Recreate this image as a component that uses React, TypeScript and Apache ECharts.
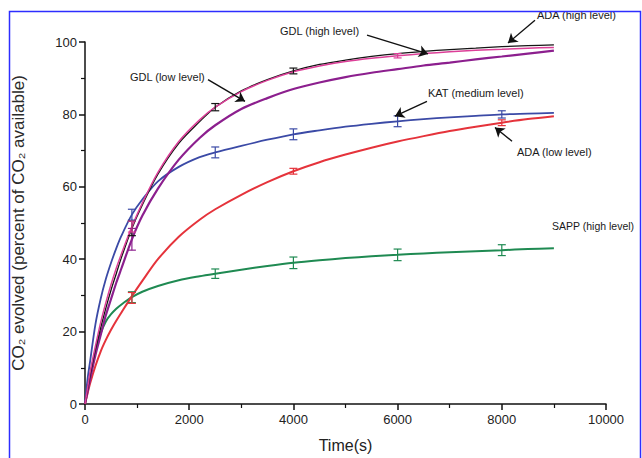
import React, { useEffect, useRef } from "react";
import * as echarts from "echarts";

// time points (s)
const timePoints = [0, 50, 100, 200, 300, 400, 500, 600, 700, 900, 1100, 1400, 1800, 2200, 2500, 3000, 3500, 4000, 4500, 5000, 5500, 6000, 6500, 7000, 7500, 8000, 8500, 9000];

const adaHigh = [0, 4, 8, 15, 21, 26.5, 31.5, 36, 40.5, 48.5, 55, 63.5, 72, 78, 82, 86.5, 89.6, 92, 93.8, 95, 96, 96.8, 97.4, 97.9, 98.3, 98.7, 99, 99.2];
const gdlHigh = [0, 4.5, 9, 16, 22.5, 28, 33, 37.5, 41.5, 49, 55.5, 64, 72.5, 78.5, 82, 86.3, 89.4, 91.8, 93.4, 94.6, 95.5, 96.2, 96.8, 97.3, 97.7, 98, 98.3, 98.5];
const gdlLow = [0, 3.5, 7, 13.5, 19, 24.5, 29, 33.5, 37.5, 45.5, 52, 59.5, 67.5, 73.5, 77, 81.5, 84.5, 87, 88.8, 90.3, 91.5, 92.5, 93.5, 94.3, 95.2, 96, 96.8, 97.6];
const katMedium = [0, 7, 12, 22, 29, 34.5, 39, 43, 46.5, 52.3, 56.5, 61.5, 65.5, 68.2, 69.5, 71.3, 73, 74.5, 75.6, 76.6, 77.4, 78.1, 78.7, 79.2, 79.6, 80, 80.2, 80.4];
const adaLow = [0, 3, 5.8, 10.5, 14.5, 17.7, 20.5, 23, 25.3, 29.8, 34, 40, 46.2, 50.9, 53.8, 57.8, 61.3, 64.3, 66.8, 68.9, 70.8, 72.5, 74, 75.4, 76.6, 77.7, 78.7, 79.5];
const sappHigh = [0, 4, 8, 14.5, 19.5, 22.8, 24.8, 26.3, 27.5, 29.5, 31, 32.6, 34.2, 35.3, 36, 37.1, 38.1, 39, 39.7, 40.3, 40.8, 41.2, 41.6, 41.9, 42.2, 42.5, 42.8, 43];

// error bars: [time, value, halfWidth]
const adaHighErr = [[900, 48.5, 2], [2500, 82, 1], [4000, 92, 0.8]];
const gdlHighErr = [[900, 49, 1.5], [6000, 96.2, 0.6]];
const gdlLowErr = [[900, 45.5, 3]];
const katErr = [[900, 52.3, 1.5], [2500, 69.5, 1.5], [4000, 74.5, 1.5], [6000, 78.1, 1.5], [8000, 80, 1]];
const adaLowErr = [[900, 29.3, 1.5], [4000, 64.3, 0.8], [8000, 77.7, 0.8]];
const sappErr = [[900, 29.5, 1.5], [2500, 36, 1.3], [4000, 39, 1.6], [6000, 41.2, 1.6], [8000, 42.5, 1.5]];

// annotation arrows in data coordinates: [fromT, fromV, toT, toV]
const arrows = [
  [8637, 106, 8119, 99.7],
  [5413, 101.9, 6583, 96.7],
  [2361, 89.6, 3071, 83.6],
  [6564, 83.6, 5950, 79.5],
  [8196, 72.6, 7869, 76.4],
];

const FONT = "'Liberation Sans', Arial, 'DejaVu Sans', sans-serif";

const colors = {
  adaHigh: "#151515",
  gdlHigh: "#dc3f98",
  gdlLow: "#8c1f8e",
  kat: "#3b4aa6",
  adaLow: "#e5333b",
  sapp: "#1f8a52",
};

function pairs(vals: number[]) {
  return timePoints.map((t, i) => [t, vals[i]]);
}

function errSeries(data: number[][], color: string) {
  return {
    type: "custom",
    data,
    z: 5,
    renderItem: (params: any, api: any) => {
      const t = api.value(0);
      const v = api.value(1);
      const e = api.value(2);
      const top = api.coord([t, v + e]);
      const bot = api.coord([t, v - e]);
      const hw = 4;
      const style = { stroke: color, lineWidth: 1.2 };
      return {
        type: "group",
        children: [
          { type: "line", shape: { x1: top[0], y1: top[1], x2: bot[0], y2: bot[1] }, style },
          { type: "line", shape: { x1: top[0] - hw, y1: top[1], x2: top[0] + hw, y2: top[1] }, style },
          { type: "line", shape: { x1: bot[0] - hw, y1: bot[1], x2: bot[0] + hw, y2: bot[1] }, style },
        ],
      };
    },
  };
}

function lineSeries(name: string, vals: number[], color: string, width: number) {
  return {
    name,
    type: "line",
    data: pairs(vals),
    showSymbol: false,
    smooth: 0.3,
    lineStyle: { color, width },
    itemStyle: { color },
  };
}

export default function App() {
  const ref = useRef<HTMLDivElement>(null);
  useEffect(() => {
    document.body.style.margin = "0";
    const chart = echarts.init(ref.current!, null, { renderer: "svg" });
    const textStyle = { fill: "#1a1a1a", font: `11px ${FONT}` };
    chart.setOption({
      animation: false,
      backgroundColor: "#ffffff",
      grid: { left: 85, right: 36, top: 42, bottom: 44, containLabel: false },
      xAxis: {
        type: "value",
        min: 0,
        max: 10000,
        interval: 2000,
        name: "Time(s)",
        nameLocation: "middle",
        nameGap: 33,
        nameTextStyle: { fontFamily: FONT, fontSize: 16, color: "#222" },
        axisLine: { show: true, lineStyle: { color: "#111", width: 1.5 } },
        axisTick: { show: true, length: 6, lineStyle: { color: "#111", width: 1.5 } },
        minorTick: { show: true, splitNumber: 2, length: 4, lineStyle: { color: "#111", width: 1.2 } },
        axisLabel: { fontFamily: FONT, fontSize: 13, color: "#222", margin: 9, formatter: (v: number) => String(v) },
        splitLine: { show: false },
      },
      yAxis: {
        type: "value",
        min: 0,
        max: 100,
        interval: 20,
        name: "CO\u2082 evolved (percent of CO\u2082 available)",
        nameLocation: "middle",
        nameGap: 58,
        nameTextStyle: { fontFamily: FONT, fontSize: 17, color: "#2a2a2a" },
        axisLine: { show: true, lineStyle: { color: "#111", width: 1.5 } },
        axisTick: { show: true, length: 6, lineStyle: { color: "#111", width: 1.5 } },
        minorTick: { show: true, splitNumber: 2, length: 4, lineStyle: { color: "#111", width: 1.2 } },
        axisLabel: { fontFamily: FONT, fontSize: 13, color: "#222", margin: 8, formatter: (v: number) => String(v) },
        splitLine: { show: false },
      },
      series: [
        lineSeries("SAPP (high level)", sappHigh, colors.sapp, 2),
        lineSeries("ADA (low level)", adaLow, colors.adaLow, 2),
        lineSeries("KAT (medium level)", katMedium, colors.kat, 1.8),
        lineSeries("GDL (low level)", gdlLow, colors.gdlLow, 2.2),
        lineSeries("ADA (high level)", adaHigh, colors.adaHigh, 1.3),
        lineSeries("GDL (high level)", gdlHigh, colors.gdlHigh, 1.5),
        errSeries(sappErr, colors.sapp),
        errSeries(adaLowErr, colors.adaLow),
        errSeries(katErr, colors.kat),
        errSeries(gdlLowErr, colors.gdlLow),
        errSeries(adaHighErr, colors.adaHigh),
        errSeries(gdlHighErr, colors.gdlHigh),
        {
          type: "lines",
          coordinateSystem: "cartesian2d",
          clip: false,
          z: 10,
          symbol: ["none", "arrow"],
          symbolSize: [7, 9],
          lineStyle: { color: "#111", width: 1.4, opacity: 1 },
          data: arrows.map((a) => ({ coords: [[a[0], a[1]], [a[2], a[3]]] })),
        },
      ],
      graphic: [
        { type: "rect", silent: true, shape: { x: 9.5, y: 11.5, width: 631, height: 500 }, style: { fill: "none", stroke: "#2d2dff", lineWidth: 1.5 }, z: 100 },
        { type: "text", x: 537, y: 15, style: { ...textStyle, text: "ADA (high level)", textVerticalAlign: "middle" } },
        { type: "text", x: 280, y: 31, style: { ...textStyle, text: "GDL (high level)", textVerticalAlign: "middle" } },
        { type: "text", x: 130, y: 77, style: { ...textStyle, text: "GDL (low level)", textVerticalAlign: "middle" } },
        { type: "text", x: 428, y: 93, style: { ...textStyle, text: "KAT (medium level)", textVerticalAlign: "middle" } },
        { type: "text", x: 517, y: 152, style: { ...textStyle, text: "ADA (low level)", textVerticalAlign: "middle" } },
        { type: "text", x: 552, y: 226, style: { ...textStyle, font: `10.5px ${FONT}`, text: "SAPP (high level)", textVerticalAlign: "middle" } },
      ],
    });
    return () => chart.dispose();
  }, []);
  return <div ref={ref} style={{ width: 642, height: 458 }} />;
}
